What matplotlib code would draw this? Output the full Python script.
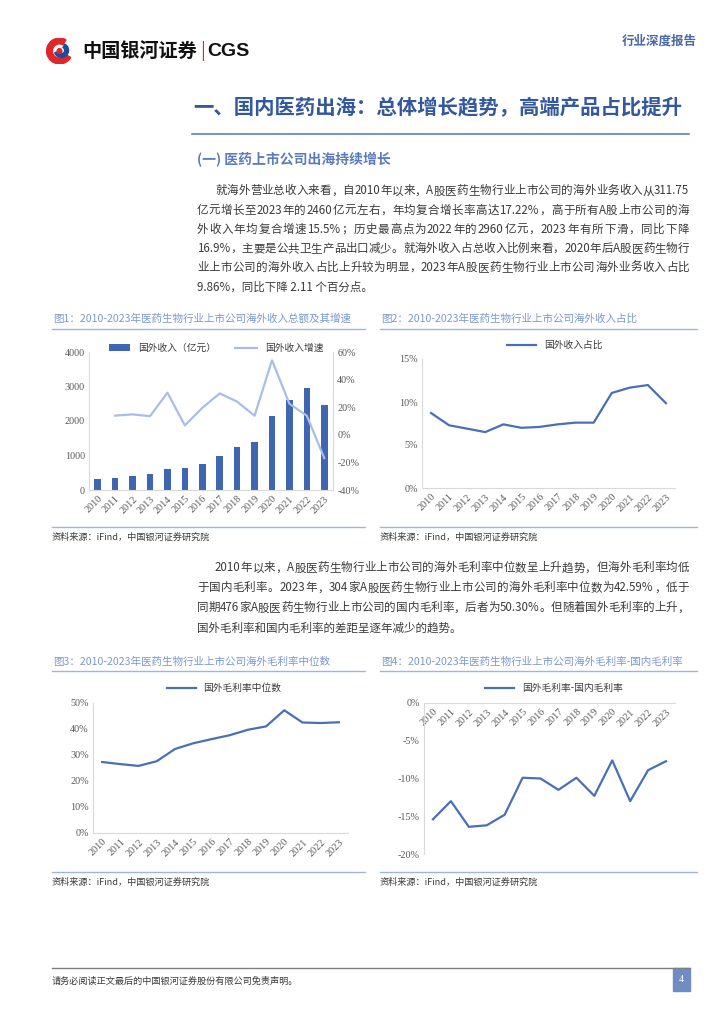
import matplotlib
matplotlib.use("Agg")
import matplotlib.pyplot as plt
import numpy as np
from matplotlib.font_manager import FontProperties
from matplotlib.patches import Rectangle, Wedge, Circle
from matplotlib.lines import Line2D

CJK = ['Noto Sans CJK SC', 'DejaVu Sans']
SERIF = ['Liberation Serif', 'DejaVu Serif']
plt.rcParams['font.family'] = CJK

# data
years = [str(y) for y in range(2010, 2024)]
revenue = [311.75, 360, 417, 475, 600, 640, 757, 990, 1233, 1388, 2136, 2621, 2961, 2460]
growth = [np.nan, 13.9, 14.8, 13.5, 30.5, 6.8, 19.5, 30.0, 24.0, 13.8, 54.0, 22.5, 13.8, -16.9]
share = [8.72, 7.29, 6.9, 6.5, 7.4, 7.0, 7.1, 7.4, 7.6, 7.6, 11.05, 11.67, 11.97, 9.86]
margin = [27.3, 26.5, 25.8, 27.6, 32.3, 34.5, 36.1, 37.6, 39.7, 41.0, 47.2, 42.5, 42.3, 42.59]
margin_gap = [-15.4, -13.0, -16.4, -16.2, -14.8, -9.9, -10.0, -11.5, -9.9, -12.3, -7.6, -13.0, -8.9, -7.71]

# text
header_right = "行业深度报告"
title = "一、国内医药出海：总体增长趋势，高端产品占比提升"
subtitle = "(一) 医药上市公司出海持续增长"
para1 = [
    "就海外营业总收入来看，自 2010 年以来，A 股医药生物行业上市公司的海外业务收入从 311.75",
    "亿元增长至 2023 年的 2460 亿元左右，年均复合增长率高达 17.22%，高于所有 A 股上市公司的海",
    "外收入年均复合增速 15.5%；历史最高点为 2022 年的 2960 亿元，2023 年有所下滑，同比下降",
    "16.9%，主要是公共卫生产品出口减少。就海外收入占总收入比例来看，2020 年后 A 股医药生物行",
    "业上市公司的海外收入占比上升较为明显，2023 年 A 股医药生物行业上市公司海外业务收入占比",
    "9.86%，同比下降 2.11 个百分点。",
]
para2 = [
    "2010 年以来，A 股医药生物行业上市公司的海外毛利率中位数呈上升趋势，但海外毛利率均低",
    "于国内毛利率。2023 年，304 家 A 股医药生物行业上市公司的海外毛利率中位数为 42.59%，低于",
    "同期 476 家 A 股医药生物行业上市公司的国内毛利率，后者为 50.30%。但随着国外毛利率的上升，",
    "国外毛利率和国内毛利率的差距呈逐年减少的趋势。",
]
chart_titles = [
    "图1：2010-2023年医药生物行业上市公司海外收入总额及其增速",
    "图2：2010-2023年医药生物行业上市公司海外收入占比",
    "图3：2010-2023年医药生物行业上市公司海外毛利率中位数",
    "图4：2010-2023年医药生物行业上市公司海外毛利率-国内毛利率",
]
source = "资料来源：iFind，中国银河证券研究院"
footer = "请务必阅读正文最后的中国银河证券股份有限公司免责声明。"

W, H = 724, 1024
BLUE_DARK = '#34589c'
BLUE_SUB = '#5b7cbc'
BLUE_TITLE = '#7d98cc'
RULE = '#9fb4de'
BAR = '#3f66b0'
LINE = '#4a6fb6'
LINE_LIGHT = '#a9bde6'
TICK = '#595959'
SPINE = '#d9d9d9'
TEXT = '#3a3a3a'

fig = plt.figure(figsize=(W / 100, H / 100), dpi=100)
renderer = fig.canvas.get_renderer()


def fx(x):
    return x / W


def fy(y):
    return 1 - y / H


def hline(x0, x1, y, color, lw=1.0):
    fig.add_artist(Line2D([fx(x0), fx(x1)], [fy(y), fy(y)], color=color, lw=lw))


def tokens(s):
    out, buf = [], ''
    for ch in s:
        if ch.isascii() and ch != ' ':
            buf += ch
        else:
            if buf:
                out.append(buf)
                buf = ''
            if ch != ' ':
                out.append(ch)
    if buf:
        out.append(buf)
    return out


def text_line(x0, x1, y, s, fs, color, justify=True):
    # y is the visual middle of the line; draw on a common baseline
    fp = FontProperties(family=CJK, size=fs)
    base = y + fs * 100 / 72 * 0.38
    if not justify:
        fig.text(fx(x0), fy(base), s, fontproperties=fp, color=color, va='baseline')
        return
    toks = tokens(s)
    ws = [renderer.get_text_width_height_descent(t, fp, ismath=False)[0] for t in toks]
    gap = (x1 - x0 - sum(ws)) / (len(toks) - 1)
    x = x0
    for t, w in zip(toks, ws):
        fig.text(fx(x), fy(base), t, fontproperties=fp, color=color, va='baseline')
        x += w + gap


def add_ax(l, t, r, b):
    return fig.add_axes([fx(l), fy(b), (r - l) / W, (b - t) / H])


# header
logo = fig.add_axes([fx(44), fy(64), 31 / W, 26 / H])
logo.set_xlim(-1.2, 1.2)
logo.set_ylim(-1, 1)
logo.set_aspect('equal')
logo.axis('off')
logo.add_patch(Wedge((0, 0), 1.0, 60, 330, width=0.45, color='#e0262b'))
logo.add_patch(Wedge((0.15, 0.05), 0.55, 200, 60, width=0.3, color='#1f4b9e'))
logo.add_patch(Circle((0.0, 0.0), 0.18, color='#e0262b'))
fig.text(fx(82), fy(51), "中国银河证券", fontsize=13.8, fontweight='bold', color='#111111', va='center')
fig.text(fx(200), fy(51), "|", fontsize=13, color='#e0262b', va='center')
fig.text(fx(207), fy(51), "CGS", fontsize=14, fontweight='bold', color='#111111', va='center',
         family=['Liberation Sans', 'DejaVu Sans'])
fig.text(fx(697), fy(41), header_right, fontsize=9, fontweight='bold', color='#4a67a6', va='center', ha='right')

# section title
fig.text(fx(193), fy(108), title, fontsize=14.7, fontweight='bold', color=BLUE_DARK, va='center')
hline(192, 689, 134, '#5f7fbf', 1.2)
fig.text(fx(197), fy(160), subtitle, fontsize=10, fontweight='bold', color=BLUE_SUB, va='center')

# paragraph 1
for i, s in enumerate(para1):
    y = 190 + i * 19.2
    x0 = 215 if i == 0 else 197
    text_line(x0, 689, y, s, 8.3, TEXT, justify=(i < len(para1) - 1))

# paragraph 2
for i, s in enumerate(para2):
    y = 567 + i * 20
    x0 = 215 if i == 0 else 197
    text_line(x0, 689, y, s, 8.3, TEXT, justify=(i < len(para2) - 1))


def chart_frame(x0, x1, y_title, y_rule, y_src_rule, idx):
    fig.text(fx(x0 + 1), fy(y_title), chart_titles[idx], fontsize=7.6, color=BLUE_TITLE, va='center')
    hline(x0, x1, y_rule, RULE, 1.0)
    hline(x0, x1, y_src_rule, RULE, 1.0)
    fig.text(fx(x0), fy(y_src_rule + 10), source, fontsize=6.6, color=TEXT, va='center', style='italic')


def style_ax(ax, spines=('left', 'bottom')):
    for k, sp in ax.spines.items():
        sp.set_visible(k in spines)
        sp.set_color(SPINE)
        sp.set_linewidth(0.8)
    ax.tick_params(length=0, colors=TICK, labelsize=7.3, pad=3)
    for lab in ax.get_xticklabels() + ax.get_yticklabels():
        lab.set_family(SERIF)
    ax.set_facecolor('none')


def set_years(ax):
    x = np.arange(len(years))
    ax.set_xticks(x)
    ax.set_xticklabels(years, rotation=45, ha='right', rotation_mode='anchor', family=SERIF)
    ax.set_xlim(-0.5, len(years) - 0.5)


x = np.arange(len(years))

# chart 1
chart_frame(52, 365, 319, 329, 527, 0)
ax1 = add_ax(89, 352, 333, 490)
ax1.bar(x, revenue, width=0.38, color=BAR, label="国外收入（亿元）", zorder=2)
ax1.set_ylim(0, 4000)
ax1.set_yticks([0, 1000, 2000, 3000, 4000])
ax1.set_yticklabels(['0', '1000', '2000', '3000', '4000'])
set_years(ax1)
style_ax(ax1, ('left', 'bottom', 'right'))
ax1b = ax1.twinx()
ax1b.plot(x, growth, color=LINE_LIGHT, lw=1.6, label="国外收入增速", zorder=3)
ax1b.set_ylim(-40, 60)
ax1b.set_yticks([-40, -20, 0, 20, 40, 60])
ax1b.set_yticklabels(['-40%', '-20%', '0%', '20%', '40%', '60%'])
style_ax(ax1b, ())
h1, l1 = ax1.get_legend_handles_labels()
h2, l2 = ax1b.get_legend_handles_labels()
fig.legend(h1 + h2, l1 + l2, loc='center', bbox_to_anchor=(fx(216), fy(348)), ncol=2, frameon=False,
           fontsize=7, handlelength=2.2, handleheight=0.6, columnspacing=2.0, labelcolor=TEXT)

# chart 2
chart_frame(380, 697, 319, 329, 527, 1)
ax2 = add_ax(422, 359, 675, 488)
ax2.plot(x, share, color=LINE, lw=1.6, label="国外收入占比")
ax2.set_ylim(0, 15)
ax2.set_yticks([0, 5, 10, 15])
ax2.set_yticklabels(['0%', '5%', '10%', '15%'])
set_years(ax2)
style_ax(ax2)
fig.legend(loc='center', bbox_to_anchor=(fx(555), fy(345)), frameon=False, fontsize=7,
           handlelength=3.0, labelcolor=TEXT, handles=ax2.get_lines())

# chart 3
chart_frame(52, 365, 662, 671, 872, 2)
ax3 = add_ax(93, 703, 348, 833)
ax3.plot(x, margin, color=LINE, lw=1.6, label="国外毛利率中位数")
ax3.set_ylim(0, 50)
ax3.set_yticks([0, 10, 20, 30, 40, 50])
ax3.set_yticklabels(['0%', '10%', '20%', '30%', '40%', '50%'])
set_years(ax3)
style_ax(ax3)
fig.legend(loc='center', bbox_to_anchor=(fx(224), fy(688)), frameon=False, fontsize=7,
           handlelength=3.0, labelcolor=TEXT, handles=ax3.get_lines())

# chart 4: category axis sits on the 0% line at the top
chart_frame(380, 697, 662, 671, 872, 3)
ax4 = add_ax(424, 703, 675, 854)
ax4.spines['bottom'].set_position(('data', 0))
ax4.plot(x, margin_gap, color=LINE, lw=1.6, label="国外毛利率-国内毛利率")
ax4.set_ylim(-20, 0)
ax4.set_yticks([-20, -15, -10, -5, 0])
ax4.set_yticklabels(['-20%', '-15%', '-10%', '-5%', '0%'])
set_years(ax4)
style_ax(ax4)
fig.legend(loc='center', bbox_to_anchor=(fx(554), fy(688)), frameon=False, fontsize=7,
           handlelength=3.0, labelcolor=TEXT, handles=ax4.get_lines())

# footer
hline(52, 690, 968, '#7f7f7f', 1.0)
fig.text(fx(52), fy(981), footer, fontsize=6.6, color=TEXT, va='center')
fig.add_artist(Rectangle((fx(673), fy(991)), 17 / W, 23 / H, color='#6f8cc5', transform=fig.transFigure))
fig.text(fx(681.5), fy(979.5), "4", fontsize=7, color='white', ha='center', va='center', family=SERIF)

fig.savefig("out.png", dpi=100)
